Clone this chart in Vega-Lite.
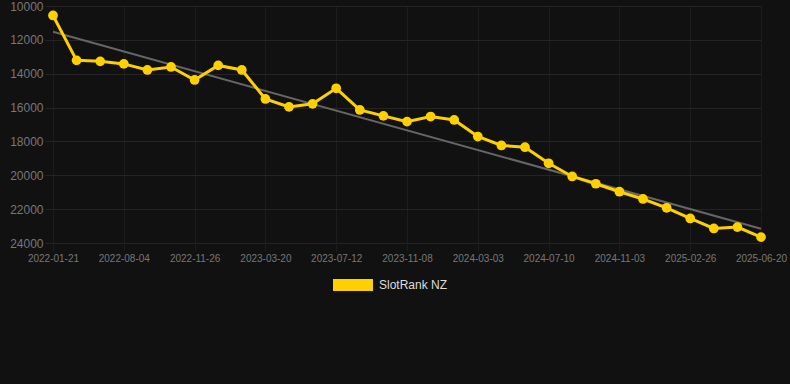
{
  "$schema": "https://vega.github.io/schema/vega-lite/v6.json",
  "autosize": "none",
  "width": 737,
  "height": 237,
  "padding": {"left": 53, "top": 6, "right": 0, "bottom": 141},
  "background": "#111111",
  "config": {
    "view": {"stroke": null},
    "font": "Liberation Sans",
    "axis": {"gridWidth": 1, "domain": false, "labelFont": "Liberation Sans"}
  },
  "datasets": {
    "rank": [
      {"date": "2022-01-21", "rank": 10560, "series": "SlotRank NZ"},
      {"date": "2022-03-26", "rank": 13210, "series": "SlotRank NZ"},
      {"date": "2022-05-30", "rank": 13270, "series": "SlotRank NZ"},
      {"date": "2022-08-04", "rank": 13420, "series": "SlotRank NZ"},
      {"date": "2022-09-11", "rank": 13780, "series": "SlotRank NZ"},
      {"date": "2022-10-19", "rank": 13600, "series": "SlotRank NZ"},
      {"date": "2022-11-26", "rank": 14370, "series": "SlotRank NZ"},
      {"date": "2023-01-03", "rank": 13510, "series": "SlotRank NZ"},
      {"date": "2023-02-10", "rank": 13780, "series": "SlotRank NZ"},
      {"date": "2023-03-20", "rank": 15490, "series": "SlotRank NZ"},
      {"date": "2023-04-27", "rank": 15960, "series": "SlotRank NZ"},
      {"date": "2023-06-04", "rank": 15780, "series": "SlotRank NZ"},
      {"date": "2023-07-12", "rank": 14860, "series": "SlotRank NZ"},
      {"date": "2023-08-20", "rank": 16140, "series": "SlotRank NZ"},
      {"date": "2023-09-29", "rank": 16490, "series": "SlotRank NZ"},
      {"date": "2023-11-08", "rank": 16830, "series": "SlotRank NZ"},
      {"date": "2023-12-16", "rank": 16530, "series": "SlotRank NZ"},
      {"date": "2024-01-24", "rank": 16730, "series": "SlotRank NZ"},
      {"date": "2024-03-03", "rank": 17710, "series": "SlotRank NZ"},
      {"date": "2024-04-14", "rank": 18240, "series": "SlotRank NZ"},
      {"date": "2024-05-27", "rank": 18340, "series": "SlotRank NZ"},
      {"date": "2024-07-10", "rank": 19290, "series": "SlotRank NZ"},
      {"date": "2024-08-17", "rank": 20070, "series": "SlotRank NZ"},
      {"date": "2024-09-25", "rank": 20500, "series": "SlotRank NZ"},
      {"date": "2024-11-03", "rank": 20970, "series": "SlotRank NZ"},
      {"date": "2024-12-11", "rank": 21400, "series": "SlotRank NZ"},
      {"date": "2025-01-18", "rank": 21920, "series": "SlotRank NZ"},
      {"date": "2025-02-26", "rank": 22550, "series": "SlotRank NZ"},
      {"date": "2025-04-05", "rank": 23140, "series": "SlotRank NZ"},
      {"date": "2025-05-13", "rank": 23060, "series": "SlotRank NZ"},
      {"date": "2025-06-20", "rank": 23650, "series": "SlotRank NZ"}
    ],
    "trend": [
      {"date": "2022-01-21", "rank": 11520},
      {"date": "2025-06-20", "rank": 23160}
    ]
  },
  "encoding": {
    "x": {
      "field": "date", "type": "ordinal", "title": null,
      "scale": {"type": "point", "range": [0, 708], "padding": 0},
      "axis": {
        "values": ["2022-01-21", "2022-08-04", "2022-11-26", "2023-03-20", "2023-07-12", "2023-11-08", "2024-03-03", "2024-07-10", "2024-11-03", "2025-02-26", "2025-06-20"],
        "labelAngle": 0, "labelColor": "#777777", "labelFontSize": 10,
        "ticks": true, "tickSize": 8, "tickColor": "#1c1c1c", "labelPadding": 2,
        "grid": true, "gridColor": "#1c1c1c"
      }
    },
    "y": {
      "field": "rank", "type": "quantitative", "title": null,
      "scale": {"domain": [10000, 24000], "reverse": true, "nice": false, "zero": false},
      "axis": {
        "values": [10000, 12000, 14000, 16000, 18000, 20000, 22000, 24000],
        "format": "d", "labelColor": "#777777", "labelFontSize": 12,
        "ticks": true, "tickSize": 8, "tickColor": "#242424", "labelPadding": 2,
        "grid": true, "gridColor": "#242424"
      }
    }
  },
  "layer": [
    {
      "data": {"name": "trend"},
      "mark": {"type": "line", "color": "#666666", "strokeWidth": 2}
    },
    {
      "data": {"name": "rank"},
      "mark": {"type": "line", "strokeWidth": 3, "point": {"filled": true, "size": 95, "opacity": 1}},
      "encoding": {
        "color": {
          "field": "series", "type": "nominal",
          "scale": {"range": ["#FFD000"]},
          "legend": {
            "title": null, "orient": "none", "legendX": 280, "legendY": 259,
            "symbolType": "M-1,-0.3H1V0.3H-1Z", "symbolSize": 1600,
            "symbolStrokeWidth": 0, "symbolFillColor": "#FFD000",
            "labelColor": "#dddddd", "labelFontSize": 12, "labelFont": "Liberation Sans",
            "labelOffset": 6, "padding": 0
          }
        }
      }
    }
  ]
}
